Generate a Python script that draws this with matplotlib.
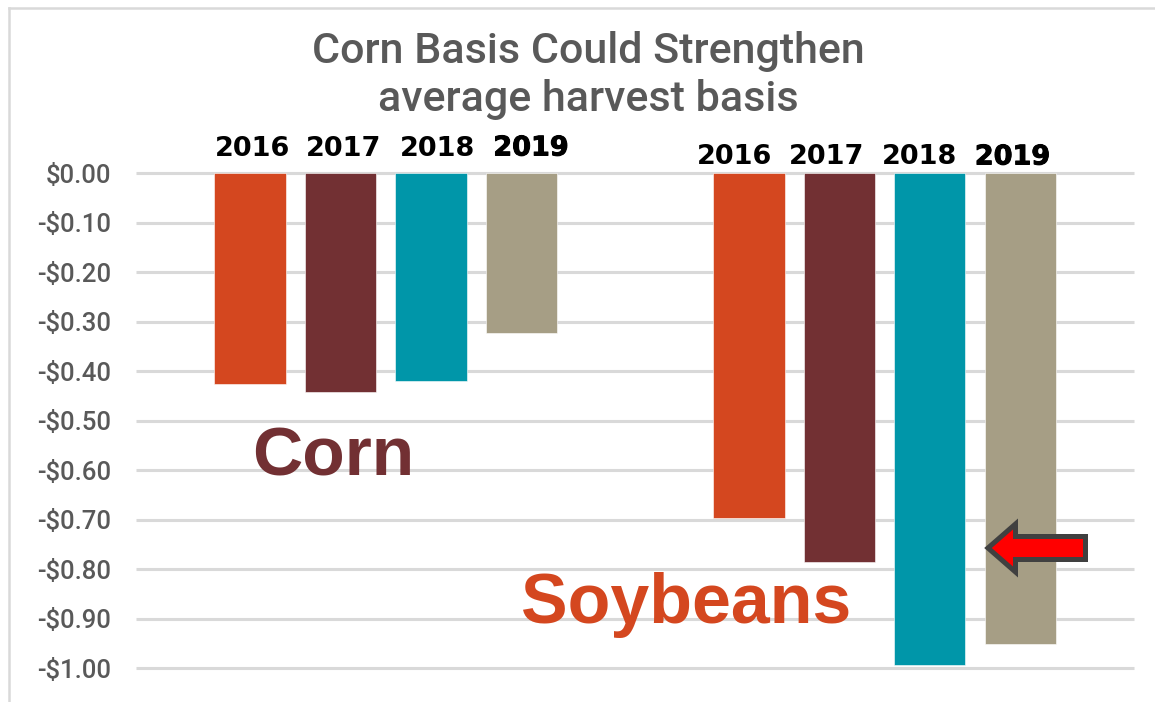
import matplotlib
matplotlib.use("Agg")
import matplotlib.pyplot as plt
from matplotlib.lines import Line2D
from matplotlib.patches import Polygon
import matplotlib.patheffects as pe

# ---- data -------------------------------------------------------------
commodities = ["Corn", "Soybeans"]
years = ["2016", "2017", "2018", "2019"]
corn_basis = [-0.426, -0.442, -0.420, -0.322]
soy_basis = [-0.697, -0.786, -0.993, -0.951]
y_ticks = [0.0, -0.1, -0.2, -0.3, -0.4, -0.5, -0.6, -0.7, -0.8, -0.9, -1.0]

# ---- style ------------------------------------------------------------
year_colors = ["#D4471F", "#723033", "#0096A9", "#A69E85"]
grid_color = "#D9D9D9"
text_gray = "#595959"
W, H = 1155, 702

fig = plt.figure(figsize=(W / 100, H / 100), dpi=100)
fig.patch.set_facecolor("white")


def fx(x):
    return x / W


def fy(y):
    return 1 - y / H


ax = fig.add_axes([fx(136), fy(668.3), 998 / W, 495 / H])
ax.set_xlim(0, 2)
ax.set_ylim(-1.0, 0.0)
for s in ax.spines.values():
    s.set_visible(False)

# horizontal gridlines
ax.hlines(y_ticks, 0, 2, colors=grid_color, linewidth=2.2, zorder=0, clip_on=False)

# clustered bars: two categories, four years each
step = 90.5 / 499
width = 71.5 / 499
series = list(zip(*[corn_basis, soy_basis]))
for i, (yr, vals) in enumerate(zip(years, series)):
    xs = [c + 0.5 + (i - 1.5) * step for c in range(len(commodities))]
    ax.bar(xs, vals, width=width, color=year_colors[i], zorder=2,
           edgecolor="white", linewidth=0.4, clip_on=False)

ax.set_xticks([])
ax.set_yticks(y_ticks)
ax.set_yticklabels([("-" if v < 0 else "") + f"${abs(v):.2f}" for v in y_ticks],
                   fontsize=18.5, color=text_gray, family="Roboto", fontweight="medium")
ax.tick_params(axis="y", length=0, pad=18)

# title
fig.text(fx(588), fy(63), "Corn Basis Could Strengthen", ha="center", va="baseline",
         fontsize=31, color=text_gray, family="Roboto", fontweight="medium")
fig.text(fx(588), fy(111), "average harvest basis", ha="center", va="baseline",
         fontsize=31, color=text_gray, family="Roboto", fontweight="medium")

# year labels above each cluster
corn_label_x = [253, 344, 437.5, 531]
soy_label_x = [734.5, 826.7, 919, 1012.5]
for lx_list, base in ((corn_label_x, 155.5), (soy_label_x, 164.5)):
    for yr, lx in zip(years, lx_list):
        t = fig.text(fx(lx), fy(base), yr, ha="center", va="baseline",
                     fontsize=19.5, fontweight="bold", color="black", family="DejaVu Sans")
        if yr == "2019":
            t.set_path_effects([pe.withStroke(linewidth=0.7, foreground="black")])

# commodity names
fig.text(fx(252), fy(475), "Corn", ha="left", va="baseline", fontsize=50,
         fontweight="bold", color="#723033", family="Liberation Sans")
fig.text(fx(521), fy(623), "Soybeans", ha="left", va="baseline", fontsize=50.3,
         fontweight="bold", color="#D4471F", family="Liberation Sans")

# arrow pointing at the 2019 soybean bar
arrow_px = [(988, 548), (1015.5, 524), (1015.5, 536.5), (1085.5, 536.5),
            (1085.5, 559.5), (1015.5, 559.5), (1015.5, 572)]
arrow = Polygon([(fx(x), fy(y)) for x, y in arrow_px], closed=True,
                transform=fig.transFigure, facecolor="#FF0000", edgecolor="#404040",
                linewidth=3.6, joinstyle="miter", zorder=5)
fig.add_artist(arrow)

# chart-area border (left and top edges)
fig.add_artist(Line2D([fx(8.5), fx(8.5)], [0, fy(7.5)], color=grid_color, linewidth=1.8,
                      transform=fig.transFigure))
fig.add_artist(Line2D([fx(8.5), 1], [fy(7.5), fy(7.5)], color=grid_color, linewidth=1.8,
                      transform=fig.transFigure))

fig.savefig("out.png", dpi=100, facecolor="white")
